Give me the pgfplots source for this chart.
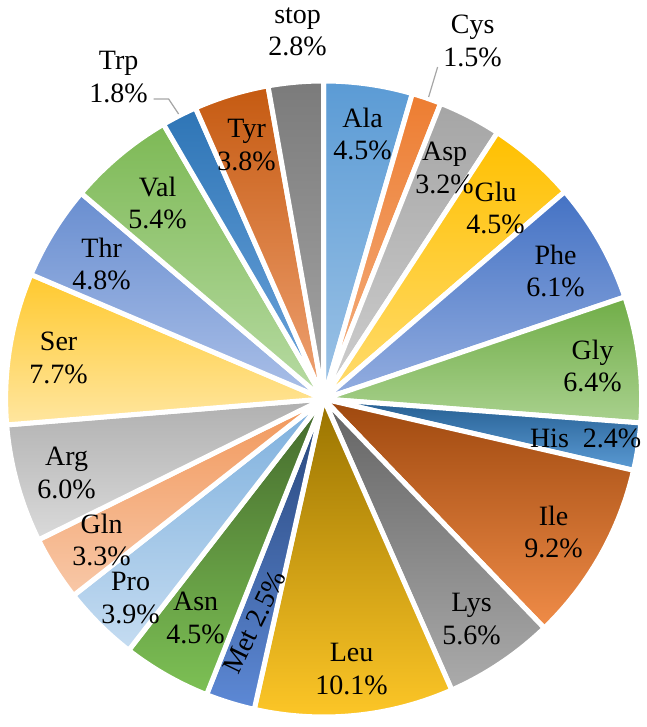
\documentclass[border=0pt]{standalone}
\usepackage{pgfplots}
\pgfplotsset{compat=1.18}
\usepackage{pgfplotstable}
\usepackage{fontspec}
\setmainfont{Liberation Serif}

% slice colours: top and bottom of each linear gradient
\definecolor{Ala-t}{HTML}{5B9BD5}\definecolor{Ala-b}{HTML}{9DC3E6}
\definecolor{Cys-t}{HTML}{ED7D31}\definecolor{Cys-b}{HTML}{F4B183}
\definecolor{Asp-t}{HTML}{A5A5A5}\definecolor{Asp-b}{HTML}{CFCFCF}
\definecolor{Glu-t}{HTML}{FFC000}\definecolor{Glu-b}{HTML}{FFDC70}
\definecolor{Phe-t}{HTML}{4472C4}\definecolor{Phe-b}{HTML}{94AEE0}
\definecolor{Gly-t}{HTML}{70AD47}\definecolor{Gly-b}{HTML}{A9D18E}
\definecolor{His-t}{HTML}{255E91}\definecolor{His-b}{HTML}{5B9BD5}
\definecolor{Ile-t}{HTML}{9E480E}\definecolor{Ile-b}{HTML}{F08C48}
\definecolor{Lys-t}{HTML}{636363}\definecolor{Lys-b}{HTML}{ABABAB}
\definecolor{Leu-t}{HTML}{997300}\definecolor{Leu-b}{HTML}{FFC828}
\definecolor{Met-t}{HTML}{264478}\definecolor{Met-b}{HTML}{5D89D6}
\definecolor{Asn-t}{HTML}{43682B}\definecolor{Asn-b}{HTML}{7DC155}
\definecolor{Pro-t}{HTML}{7CAFDD}\definecolor{Pro-b}{HTML}{C5DCF1}
\definecolor{Gln-t}{HTML}{F1975A}\definecolor{Gln-b}{HTML}{F8C8A8}
\definecolor{Arg-t}{HTML}{B0B0B0}\definecolor{Arg-b}{HTML}{DADADA}
\definecolor{Ser-t}{HTML}{FFC92E}\definecolor{Ser-b}{HTML}{FFE6A0}
\definecolor{Thr-t}{HTML}{698ED0}\definecolor{Thr-b}{HTML}{ABC0E8}
\definecolor{Val-t}{HTML}{7DB955}\definecolor{Val-b}{HTML}{B8DBA4}
\definecolor{Trp-t}{HTML}{2E75B6}\definecolor{Trp-b}{HTML}{6FA6DD}
\definecolor{Tyr-t}{HTML}{C55A11}\definecolor{Tyr-b}{HTML}{F0A374}
\definecolor{stop-t}{HTML}{7B7B7B}\definecolor{stop-b}{HTML}{A6A6A6}
\definecolor{leader}{HTML}{A6A6A6}

% share (%), label centre in picture pixels (y from top), label mode
\pgfplotstableread{
name pct lx ly mode
Ala 4.5 362 134 2
Cys 1.5 472 41 2
Asp 3.2 444 168 2
Glu 4.5 495 208 2
Phe 6.1 555 271 2
Gly 6.4 592 366 2
His 2.4 585 438 1
Ile 9.2 553 532 2
Lys 5.6 471 619 2
Leu 10.1 351 669 2
Met 2.5 254 622 3
Asn 4.5 195 618 2
Pro 3.9 130 598 2
Gln 3.3 101 540 2
Arg 6.0 66 473 2
Ser 7.7 58 358 2
Thr 4.8 101 264 2
Val 5.4 157 203 2
Trp 1.8 118 77 2
Tyr 3.8 246 145 2
stop 2.8 297 32 2
}\pietab

\begin{document}
\begin{tikzpicture}
\begin{axis}[
    scale only axis,
    width=323pt, height=363.5pt,
    xmin=0, xmax=646, ymin=0, ymax=727,
    hide axis, clip=false,
    disabledatascaling,
]
\pgfplotsextra{
    \path (axis cs:0,0) rectangle (axis cs:646,727);
    \pgfplotstablegetrowsof{\pietab}
    \pgfmathtruncatemacro\nrows{\pgfplotsretval-1}
    \gdef\cum{0}
    \foreach \i in {0,...,\nrows}{
        \pgfplotstablegetelem{\i}{name}\of\pietab \let\nm\pgfplotsretval
        \pgfplotstablegetelem{\i}{pct}\of\pietab \let\v\pgfplotsretval
        \pgfmathsetmacro\ta{90-3.6*\cum}
        \pgfmathsetmacro\tb{90-3.6*(\cum+\v)}
        \path[top color=\nm-t, bottom color=\nm-b, draw=white, line width=2.5pt, line join=round]
            (axis cs:323,328) -- ++(\ta:318) arc[start angle=\ta, end angle=\tb, radius=318] -- cycle;
        \pgfmathsetmacro\c{\cum+\v}\xdef\cum{\c}
    }
    \draw[leader, line width=0.6pt] (axis cs:437,660) -- (axis cs:428,630);
    \draw[leader, line width=0.6pt] (axis cs:153,628) -- (axis cs:168,628) -- (axis cs:178,613);
    \foreach \i in {0,...,\nrows}{
        \pgfplotstablegetelem{\i}{name}\of\pietab \let\nm\pgfplotsretval
        \pgfplotstablegetelem{\i}{pct}\of\pietab \let\v\pgfplotsretval
        \pgfplotstablegetelem{\i}{lx}\of\pietab \let\lx\pgfplotsretval
        \pgfplotstablegetelem{\i}{ly}\of\pietab \pgfmathsetmacro\ly{727-\pgfplotsretval}
        \pgfplotstablegetelem{\i}{mode}\of\pietab \let\md\pgfplotsretval
        \ifnum\md=2
            \node[align=center, inner sep=0pt, font=\rmfamily\fontsize{14}{16.2}\selectfont]
                at (axis cs:\lx,\ly) {\nm\\\v\%};
        \else\ifnum\md=1
            \node[inner sep=0pt, font=\rmfamily\fontsize{14}{16.2}\selectfont]
                at (axis cs:\lx,\ly) {\nm\ \ \v\%};
        \else
            \node[inner sep=0pt, rotate=64, font=\rmfamily\fontsize{14}{16.2}\selectfont]
                at (axis cs:\lx,\ly) {\nm\ \v\%};
        \fi\fi
    }
}
\end{axis}
\end{tikzpicture}
\end{document}
